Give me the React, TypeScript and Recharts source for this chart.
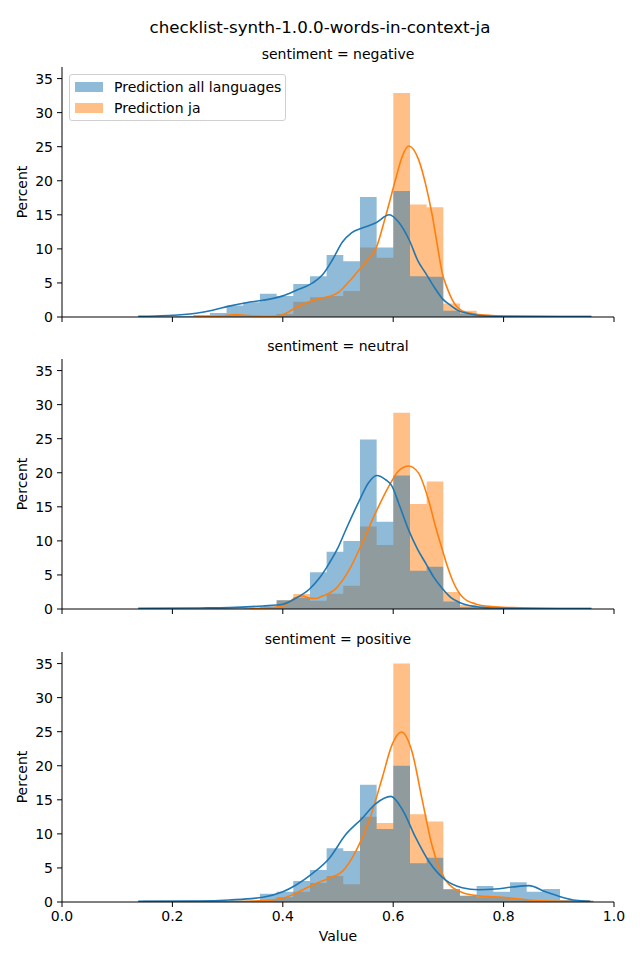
import { Area, ComposedChart, Line, XAxis, YAxis } from "recharts";

// histogram bin edges (shared by every panel)
const binEdges = [
  0.1472, 0.1774, 0.2076, 0.2378, 0.268, 0.2982, 0.3284, 0.3586, 0.3888, 0.419,
  0.4492, 0.4794, 0.5096, 0.5398, 0.57, 0.6002, 0.6304, 0.6606, 0.6908, 0.721,
  0.7512, 0.7814, 0.8116, 0.8418, 0.872, 0.9022, 0.9324, 0.9626,
];

// percent per bin
const negativeAll = [0.1, 0.1, 0.15, 0.3, 0.6, 1.67, 2.16, 3.4, 3.1, 4.85, 6.0, 9.1, 8.2, 17.6, 10.2, 18.5, 6.0, 5.9, 0.9, 0.5, 0.15, 0.1, 0.05, 0.05, 0, 0, 0];
const negativeJa = [0, 0, 0, 0, 0.05, 0.3, 0.15, 0.1, 0.45, 2.25, 2.9, 3.1, 3.8, 10.2, 8.7, 32.9, 16.5, 16.1, 2.0, 0.9, 0.2, 0.1, 0.05, 0, 0, 0, 0];
const neutralAll = [0.05, 0.05, 0.05, 0.05, 0.1, 0.1, 0.2, 0.4, 1.3, 1.7, 5.4, 8.4, 10.0, 24.9, 12.8, 19.6, 5.6, 6.2, 1.1, 0.3, 0.1, 0.05, 0.05, 0, 0, 0, 0];
const neutralJa = [0, 0, 0, 0, 0, 0, 0.05, 0.2, 1.3, 2.2, 1.2, 2.25, 3.4, 12.1, 9.4, 28.8, 15.4, 18.7, 2.5, 0.6, 0.2, 0.1, 0.05, 0, 0, 0, 0];
const positiveAll = [0.2, 0.2, 0.2, 0.2, 0.2, 0.2, 0.2, 1.2, 1.5, 3.1, 4.7, 7.9, 7.5, 17.2, 10.7, 20.0, 5.7, 6.5, 1.9, 0.9, 2.35, 1.5, 2.9, 1.5, 1.9, 0.3, 0.2];
const positiveJa = [0.2, 0.2, 0.2, 0.2, 0.2, 0.2, 0.2, 0.3, 0.7, 1.5, 2.8, 3.8, 2.6, 12.5, 11.6, 35.0, 12.9, 11.8, 1.8, 0.9, 0.7, 0.7, 0.4, 0.3, 0.2, 0.2, 0.2];

// kde curves, [value, percent]
const negativeAllKde: [number, number][] = [
  [0.138, 0.1], [0.17, 0.15], [0.2, 0.25], [0.243, 0.55], [0.273, 1.0], [0.303, 1.6],
  [0.334, 2.1], [0.364, 2.45], [0.4, 3.1], [0.424, 3.9], [0.454, 5.0], [0.472, 6.2],
  [0.49, 8.4], [0.508, 11.0], [0.525, 12.4], [0.545, 13.1], [0.568, 13.8], [0.593, 15.0],
  [0.61, 13.9], [0.629, 11.3], [0.645, 8.2], [0.659, 6.4], [0.675, 4.3], [0.689, 2.7],
  [0.704, 1.7], [0.719, 0.9], [0.734, 0.55], [0.749, 0.3], [0.78, 0.12], [0.8, 0.1],
  [0.9, 0.05], [0.959, 0.05],
];
const negativeJaKde: [number, number][] = [
  [0.24, 0.0], [0.29, 0.15], [0.315, 0.35], [0.34, 0.2], [0.37, 0.1], [0.39, 0.15],
  [0.406, 0.55], [0.424, 1.4], [0.448, 2.25], [0.466, 2.7], [0.484, 3.0], [0.502, 3.7],
  [0.52, 5.2], [0.538, 6.9], [0.556, 8.6], [0.568, 9.9], [0.586, 14.7], [0.604, 20.1],
  [0.616, 23.5], [0.628, 25.1], [0.646, 23.1], [0.659, 19.4], [0.671, 14.8], [0.68, 10.5],
  [0.689, 6.4], [0.698, 4.2], [0.707, 2.5], [0.725, 0.9], [0.749, 0.45], [0.78, 0.2],
  [0.8, 0.1], [0.9, 0.05], [0.959, 0.05],
];
const neutralAllKde: [number, number][] = [
  [0.138, 0.1], [0.25, 0.15], [0.303, 0.2], [0.364, 0.45], [0.4, 0.7], [0.424, 1.6],
  [0.448, 2.9], [0.466, 4.5], [0.484, 6.7], [0.5, 9.0], [0.514, 11.6], [0.538, 15.8],
  [0.555, 18.5], [0.57, 19.6], [0.586, 19.0], [0.598, 18.0], [0.61, 15.5], [0.629, 11.4],
  [0.644, 8.8], [0.659, 6.7], [0.674, 4.6], [0.689, 3.0], [0.704, 1.7], [0.719, 1.0],
  [0.749, 0.35], [0.78, 0.15], [0.85, 0.07], [0.959, 0.05],
];
const neutralJaKde: [number, number][] = [
  [0.34, 0.05], [0.37, 0.15], [0.4, 0.45], [0.424, 1.7], [0.436, 1.9], [0.448, 1.6],
  [0.46, 1.55], [0.472, 1.9], [0.496, 3.0], [0.52, 5.7], [0.544, 9.7], [0.568, 14.1],
  [0.592, 18.0], [0.61, 20.3], [0.628, 21.0], [0.646, 19.95], [0.664, 16.0], [0.677, 12.0],
  [0.689, 8.7], [0.698, 6.3], [0.707, 4.3], [0.725, 1.8], [0.749, 0.75], [0.779, 0.35],
  [0.815, 0.2], [0.9, 0.07], [0.959, 0.05],
];
const positiveAllKde: [number, number][] = [
  [0.138, 0.1], [0.25, 0.15], [0.303, 0.3], [0.364, 0.7], [0.4, 1.5], [0.424, 2.5],
  [0.454, 4.2], [0.484, 6.4], [0.514, 9.9], [0.544, 12.3], [0.568, 14.4], [0.596, 15.5],
  [0.617, 13.5], [0.641, 9.4], [0.665, 5.9], [0.695, 3.2], [0.725, 2.1], [0.755, 1.8],
  [0.785, 1.9], [0.816, 2.2], [0.846, 2.4], [0.876, 1.5], [0.906, 0.7], [0.93, 0.25],
  [0.957, 0.1],
];
const positiveJaKde: [number, number][] = [
  [0.3, 0.02], [0.32, 0.05], [0.364, 0.2], [0.4, 0.55], [0.424, 1.3], [0.454, 2.5],
  [0.484, 3.5], [0.508, 4.5], [0.532, 7.4], [0.556, 11.8], [0.58, 18.2], [0.598, 23.1],
  [0.615, 24.95], [0.634, 22.1], [0.652, 15.2], [0.67, 8.4], [0.695, 3.2], [0.725, 1.4],
  [0.755, 0.9], [0.785, 0.75], [0.816, 0.55], [0.846, 0.3], [0.906, 0.1], [0.957, 0.05],
];

const xTicks = [0, 0.2, 0.4, 0.6, 0.8, 1.0];
const yTicks = [0, 5, 10, 15, 20, 25, 30, 35];

const BLUE = "#1f77b4";
const ORANGE = "#ff7f0e";
const FONT = "'DejaVu Sans', sans-serif";

const toSteps = (values: number[]) =>
  binEdges.map((x, i) => ({ x, v: values[Math.min(i, values.length - 1)] }));
const toPoints = (pts: [number, number][]) => pts.map(([x, v]) => ({ x, v }));

const panels = [
  { title: "sentiment = negative", top: 67, all: negativeAll, ja: negativeJa, allKde: negativeAllKde, jaKde: negativeJaKde },
  { title: "sentiment = neutral", top: 359, all: neutralAll, ja: neutralJa, allKde: neutralAllKde, jaKde: neutralJaKde },
  { title: "sentiment = positive", top: 652, all: positiveAll, ja: positiveJa, allKde: positiveAllKde, jaKde: positiveJaKde },
];

const tickStyle = { fill: "#000", fontSize: 14, fontFamily: FONT };

function Panel({ p, last }: { p: (typeof panels)[number]; last: boolean }) {
  return (
    <div style={{ position: "absolute", left: 0, top: p.top - 10, width: 640, height: 295 }}>
      <ComposedChart width={640} height={295} margin={{ top: 10, right: 26, bottom: 0, left: 0 }}>
        <XAxis
          dataKey="x"
          type="number"
          domain={[0, 1]}
          ticks={xTicks}
          height={35}
          stroke="#000"
          tickSize={5}
          tickMargin={4}
          tick={tickStyle}
          tickFormatter={(t: number) => (last ? t.toFixed(1) : "")}
          allowDataOverflow
        />
        <YAxis
          type="number"
          domain={[0, 36.7]}
          ticks={yTicks}
          width={62}
          stroke="#000"
          tickSize={5}
          tickMargin={4}
          tick={tickStyle}
          allowDataOverflow
        />
        <Area data={toSteps(p.ja)} dataKey="v" type="stepAfter" stroke="none" fill={ORANGE} fillOpacity={0.5} isAnimationActive={false} dot={false} activeDot={false} />
        <Area data={toSteps(p.all)} dataKey="v" type="stepAfter" stroke="none" fill={BLUE} fillOpacity={0.5} isAnimationActive={false} dot={false} activeDot={false} />
        <Line data={toPoints(p.jaKde)} dataKey="v" type="monotone" stroke={ORANGE} strokeWidth={1.6} dot={false} activeDot={false} isAnimationActive={false} />
        <Line data={toPoints(p.allKde)} dataKey="v" type="monotone" stroke={BLUE} strokeWidth={1.6} dot={false} activeDot={false} isAnimationActive={false} />
      </ComposedChart>
      <div style={{ position: "absolute", left: 62, width: 552, top: -11, textAlign: "center", fontSize: 14, fontFamily: FONT }}>
        {p.title}
      </div>
      <div
        style={{
          position: "absolute", left: 22, top: 135, fontSize: 14, fontFamily: FONT,
          transform: "translate(-50%, -50%) rotate(-90deg)", whiteSpace: "nowrap",
        }}
      >
        Percent
      </div>
    </div>
  );
}

function LegendBox() {
  const row = (color: string, label: string) => (
    <div style={{ display: "flex", alignItems: "center", height: 21 }}>
      <div style={{ width: 28, height: 10, background: color, opacity: 0.5, marginRight: 11 }} />
      <span style={{ fontSize: 14, fontFamily: FONT }}>{label}</span>
    </div>
  );
  return (
    <div
      style={{
        position: "absolute", left: 69, top: 74, width: 210, height: 44, boxSizing: "content-box",
        border: "1px solid #d0d0d0", borderRadius: 3, background: "rgba(255,255,255,0.8)",
        padding: "1px 0 0 5px",
      }}
    >
      {row(BLUE, "Prediction all languages")}
      {row(ORANGE, "Prediction ja")}
    </div>
  );
}

export default function App() {
  return (
    <div style={{ position: "absolute", left: 0, top: 0, width: 640, height: 960, background: "#fff" }}>
      <div style={{ position: "absolute", left: 0, width: 640, top: 17, textAlign: "center", fontSize: 16.7, fontFamily: FONT }}>
        checklist-synth-1.0.0-words-in-context-ja
      </div>
      {panels.map((p, i) => (
        <Panel key={p.title} p={p} last={i === panels.length - 1} />
      ))}
      <LegendBox />
      <div style={{ position: "absolute", left: 62, width: 552, top: 928, textAlign: "center", fontSize: 14, fontFamily: FONT }}>
        Value
      </div>
    </div>
  );
}
